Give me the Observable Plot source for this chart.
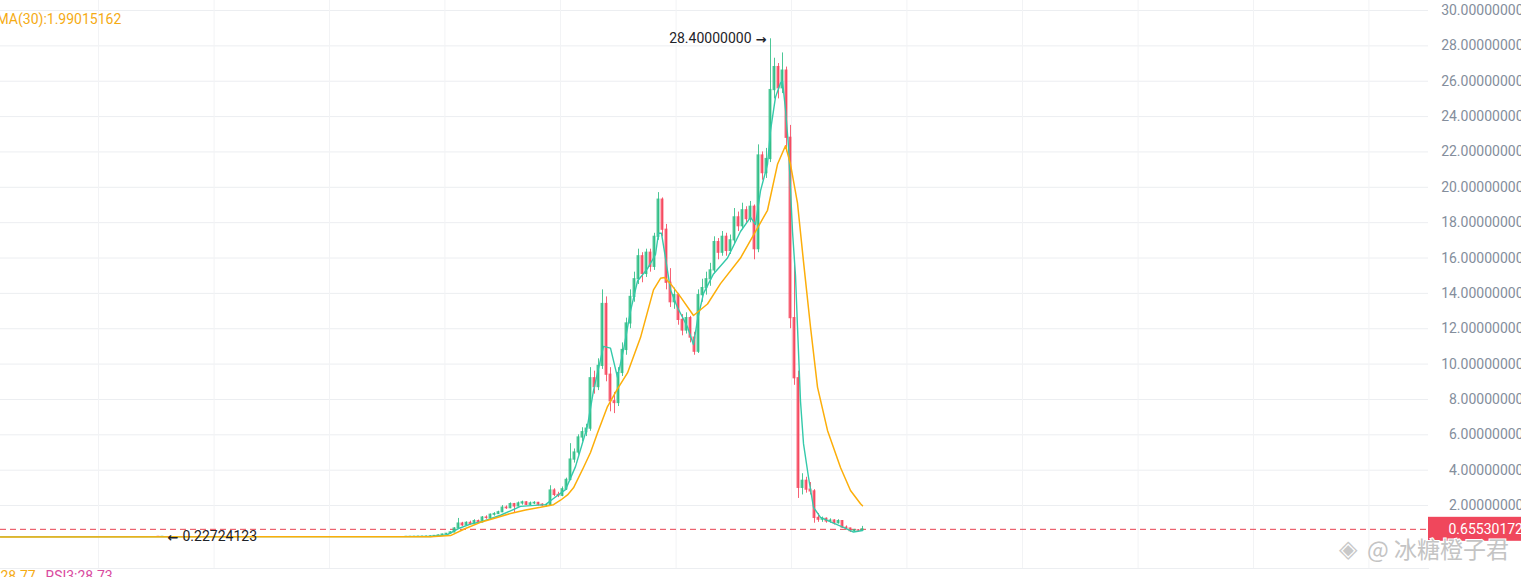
<!DOCTYPE html>
<html><head><meta charset="utf-8">
<script src="https://cdn.jsdelivr.net/npm/d3@7"></script>
<script src="https://cdn.jsdelivr.net/npm/@observablehq/plot@0.6"></script>
<style>html,body{margin:0;padding:0;background:#fff;overflow:hidden} svg{display:block}</style>
</head><body><div id="chart"></div>
<script>
// ---- data ----
const firstBar = -6;
const opens  = [.228,.230,.234,.238,.242,.246,
  .250,.260,.280,.310,.360,.400,.480,.700,.98,.88,1.02,.95,1.12,1.05,1.32,1.30,1.48,1.52,1.62,1.88,
  1.85,2.08,1.95,2.12,2.18,2.04,2.12,2.15,2.05,2.00,2.02,2.85,2.60,2.55,2.92,3.45,4.60,5.00,5.85,6.15,
  6.35,9.20,8.70,9.90,13.40,9.40,7.90,7.80,9.50,10.80,12.30,13.80,14.80,16.10,15.10,16.30,15.50,17.20,
  19.30,17.60,14.60,13.50,13.90,12.50,11.90,12.60,11.50,10.70,13.90,14.30,14.80,15.30,16.90,16.30,17.20,
  16.40,17.00,18.30,17.80,18.70,18.20,18.90,16.50,21.80,20.80,21.60,25.50,26.80,25.60,26.60,22.80,12.60,
  9.20,3.00,3.40,2.90,2.80,1.30,1.20,1.25,1.10,1.15,1.00,1.12,0.75,0.70,0.55,0.60,0.58];
const highs  = [.232,.236,.240,.245,.250,.260,
  .270,.290,.330,.380,.420,.520,.750,1.27,1.05,1.08,1.12,1.20,1.18,1.38,1.42,1.52,1.60,1.68,2.00,1.98,
  2.15,2.12,2.20,2.25,2.22,2.20,2.22,2.18,2.10,2.08,3.12,2.95,2.75,3.05,3.55,5.50,5.20,6.00,6.40,6.60,
  9.80,9.60,10.30,14.20,13.80,9.80,8.40,9.80,11.20,12.60,14.20,15.20,16.50,16.30,16.50,16.50,17.40,19.70,
  19.40,17.90,15.40,14.30,14.00,12.80,12.90,12.70,11.80,14.20,14.80,15.20,15.70,17.20,17.10,17.50,17.40,
  17.30,18.80,18.60,19.10,18.90,19.20,19.00,22.40,22.00,22.20,28.40,27.30,27.00,27.60,26.80,23.50,15.60,
  9.60,3.80,3.60,3.30,2.90,1.55,1.35,1.30,1.25,1.20,1.20,1.15,0.85,0.72,0.65,0.64,0.82];
const lows   = [.2276,.229,.232,.236,.240,.244,
  .245,.255,.270,.300,.340,.380,.460,.680,.82,.85,.90,.93,1.00,1.02,1.22,1.28,1.40,1.50,1.60,1.78,
  1.82,1.55,1.92,2.02,2.00,2.00,2.05,1.98,1.95,1.92,2.00,2.50,2.45,2.50,2.85,3.40,4.40,4.85,5.60,5.90,
  6.20,8.30,8.50,9.70,9.00,7.30,7.20,7.60,9.30,10.50,12.00,13.50,14.50,14.60,14.90,15.20,15.30,17.00,
  17.20,14.20,13.20,13.10,12.20,11.60,11.70,11.20,10.50,10.60,13.50,13.90,14.40,15.10,15.90,16.10,16.10,
  16.20,16.80,17.50,17.60,17.90,18.00,15.90,16.30,20.40,20.50,21.40,25.00,25.00,25.30,22.00,12.00,8.80,
  2.40,2.60,2.70,2.60,1.00,1.05,1.05,1.00,1.00,0.90,0.95,0.70,0.62,0.48,0.50,0.52,0.56];
const closes = [.230,.234,.238,.242,.246,.250,
  .260,.280,.310,.360,.400,.480,.700,.980,.88,1.02,.95,1.12,1.05,1.32,1.30,1.48,1.52,1.62,1.88,1.85,
  2.08,1.95,2.12,2.18,2.04,2.12,2.15,2.05,2.00,2.02,2.85,2.60,2.55,2.92,3.45,4.60,5.00,5.85,6.15,6.35,
  9.20,8.70,9.90,13.40,9.40,7.90,7.80,9.50,10.80,12.30,13.80,14.80,16.10,15.10,16.30,15.50,17.20,19.30,
  17.60,14.60,13.50,13.90,12.50,11.90,12.60,11.50,10.70,13.90,14.30,14.80,15.30,16.90,16.30,17.20,16.40,
  17.00,18.30,17.80,18.70,18.20,18.90,16.50,21.80,20.80,21.60,25.50,26.80,25.60,26.60,22.80,12.60,9.20,
  3.00,3.40,2.90,2.80,1.30,1.20,1.25,1.10,1.15,1.00,1.12,0.75,0.70,0.55,0.60,0.58,0.65530172];

// the isolated early candles (the all-time low)
const earlyBars  = [-68, -67];
const earlyOpen  = [0.2285, 0.2280];
const earlyHigh  = [0.2295, 0.2290];
const earlyLow   = [0.22724123, 0.2275];
const earlyClose = [0.2280, 0.2288];

// moving averages (bar position, value)
const ma30Bars = [-107.5,0,5,8.75,12.5,16.25,20,23.75,27.5,30.75,32.5,34.25,35.75,38.25,40,41.75,44.25,46.75,49.25,52.5,55.75,57.5,58.5,60,62.5,65.75,69.25,72.5,77.5,80,84.25,86.75,88.75,90,91.75,93.25,95,96.75,99.25,102.5,105,107.5,108];
const ma30Vals = [0.227,0.24,0.30,0.7,1.05,1.3,1.55,1.75,1.9,2.05,2.3,2.6,3.0,4.15,5.0,6.1,7.6,8.6,9.5,11.5,14.2,14.85,14.9,14.55,13.8,12.75,13.4,14.55,16.0,17.0,18.7,21.3,22.35,21.3,19.1,15.8,12.1,8.7,6.25,4.15,2.85,2.1,1.99015162];
const ma7Bars = [-107.5,0,4,7,10,13,17.5,22.5,28.75,30.75,33.75,36.25,39.25,40.75,43.25,45,46.75,48.25,50,51.75,54.25,56.25,57,57.75,58.75,60,61.75,64.25,65.75,66.75,68.25,70.75,74.25,77.5,80,81.25,82.5,84.25,85,86.25,87.5,88,88.75,89.5,90.5,91.25,91.75,92.5,93.25,94.5,95.75,97.5,100.75,103.25,105.75,108];
const ma7Vals = [0.23,0.25,0.33,0.7,0.95,1.1,1.45,1.95,2.05,2.4,2.9,4.2,6.5,8.5,11.0,10.9,9.25,10.8,13.0,14.7,15.4,16.2,17.4,17.4,16.0,14.2,13.2,12.1,11.1,12.5,14.0,15.1,16.0,17.5,18.3,17.9,19.8,21.3,23.2,25.1,25.9,26.0,24.4,22.3,17.5,15.0,12.1,7.9,5.5,3.6,1.9,1.33,1.0,0.77,0.5,0.59];

const yTicks = [2,4,6,8,10,12,14,16,18,20,22,24,26,28,30];
const gridBars = [-83,-54.1,-25.25,3.6,32.5,61.4,90.25,119.1,148,176.9,205.75,234.6];
const highLabel = "28.40000000";
const lowLabel = "0.22724123";
const rsiTexts = ["28.77", "RSI3:28.73"];
const watermark = "@ 冰糖橙子君";

// ---- build tables ----
const bars = [
  ...earlyBars.map((b,k)=>({i:b,o:earlyOpen[k],h:earlyHigh[k],l:earlyLow[k],c:earlyClose[k]})),
  ...opens.map((o,k)=>({i:firstBar+k,o,h:highs[k],l:lows[k],c:closes[k]}))
];
const ma30 = ma30Bars.map((b,k)=>({i:b,v:ma30Vals[k]}));
const ma7 = ma7Bars.map((b,k)=>({i:b,v:ma7Vals[k]}));
const UP = "#2ebd85", DOWN = "#f6465d", ORANGE = "#fcae0a", TEAL = "#34c9aa";
const col = d => d.c >= d.o ? UP : DOWN;
const last = bars[bars.length-1];
const peak = bars.reduce((a,b)=> b.h>a.h?b:a);
const trough = bars.reduce((a,b)=> b.l<a.l?b:a);

const plot = Plot.plot({
  width: 1521, height: 577,
  marginLeft: 0, marginRight: 93, marginTop: 0, marginBottom: 9,
  style: {fontFamily: "Roboto, 'Noto Sans', sans-serif", fontSize: "14px", background: "#fff"},
  x: {domain: [-107.5, 249.5], axis: null},
  y: {domain: [0, 30], range: [540.4, 10], axis: null},
  marks: [
    Plot.gridY(yTicks, {stroke: "#eceef1", strokeOpacity: 1}),
    Plot.gridX(gridBars, {stroke: "#f2f3f5", strokeOpacity: 1}),
    Plot.frame({anchor: "bottom", stroke: "#eceef1"}),
    Plot.ruleY([last.c], {stroke: "#e8404f", strokeDasharray: "6,4", strokeWidth: 1}),
    Plot.ruleX(bars, {x: "i", y1: "l", y2: "h", stroke: col, strokeWidth: 1, strokeOpacity: 0.85}),
    Plot.rect(bars, {x1: d=>d.i-0.36, x2: d=>d.i+0.36, y1: d=>Math.min(d.o,d.c), y2: d=>Math.max(d.o,d.c),
      fill: col, fillOpacity: 0.85, insetTop: -0.6, insetBottom: -0.6}),
    Plot.line(ma7, {x: "i", y: "v", stroke: TEAL, strokeWidth: 1.4}),
    Plot.line(ma30, {x: "i", y: "v", stroke: ORANGE, strokeWidth: 1.5}),
    Plot.text([peak], {x: "i", y: "h", text: () => highLabel, textAnchor: "end", dx: -19, fill: "#1e2329", fontSize: 14}),
    Plot.text([peak], {x: "i", y: "h", text: () => "\u2192", textAnchor: "end", dx: -4, dy: 1, fill: "#1e2329", fontSize: 13, fontWeight: "bold", fontFamily: "DejaVu Sans"}),
    Plot.text([trough], {x: "i", y: "l", text: () => "\u2190", textAnchor: "start", dx: 9, dy: 1, fill: "#1e2329", fontSize: 13, fontWeight: "bold", fontFamily: "DejaVu Sans"}),
    Plot.text([trough], {x: "i", y: "l", text: () => lowLabel, textAnchor: "start", dx: 24, fill: "#1e2329", fontSize: 14}),
    Plot.text([ma30Vals[ma30Vals.length-1]], {frameAnchor: "top-left", text: d => `MA(30):${d.toFixed(8)}`, dx: -4, dy: 14, textAnchor: "start", fill: "#f5ab14", fontSize: 14}),
    Plot.text([rsiTexts[0]], {frameAnchor: "bottom-left", text: d=>d, dx: 0, dy: 3, lineAnchor: "top", textAnchor: "start", fill: "#f5ab14", fontSize: 14}),
    Plot.text([rsiTexts[1]], {frameAnchor: "bottom-left", text: d=>d, dx: 45, dy: 3, lineAnchor: "top", textAnchor: "start", fill: "#d9499e", fontSize: 14}),
    Plot.axisY(yTicks, {anchor: "right", tickSize: 0, tickPadding: 95, textAnchor: "end", tickFormat: d => d.toFixed(8), fontSize: 14, fill: "#848e9c", label: null})
  ]
});
document.getElementById("chart").appendChild(plot);

// current-price label on the axis
const svg = d3.select(plot);
const yLast = plot.scale("y").apply(last.c);
const xFrameRight = plot.scale("x").apply(249.5);
svg.append("rect").attr("x", xFrameRight).attr("y", yLast - 12).attr("width", 1521 - xFrameRight).attr("height", 24).attr("fill", "#f0475c");
svg.append("text").attr("x", 1523).attr("y", yLast).attr("dy", "0.35em").attr("text-anchor", "end")
  .attr("fill", "#fff").attr("font-size", 14).attr("font-family", "Roboto, sans-serif").text(last.c.toFixed(8));
// watermark
svg.append("text").attr("x", 1339).attr("y", 557).attr("text-anchor", "start").attr("font-size", 24).attr("font-family", "DejaVu Sans")
  .attr("fill", "#c8c8c8").attr("stroke", "#fff").attr("stroke-width", 2).attr("paint-order", "stroke").text("\u25C8");
svg.append("text").attr("x", 1367).attr("y", 558).attr("text-anchor", "start").attr("font-size", 23).attr("font-family", "'Noto Sans CJK SC', sans-serif")
  .attr("fill", "#c4c4c4").attr("stroke", "#fff").attr("stroke-width", 2).attr("paint-order", "stroke").text(watermark);
</script></body></html>
